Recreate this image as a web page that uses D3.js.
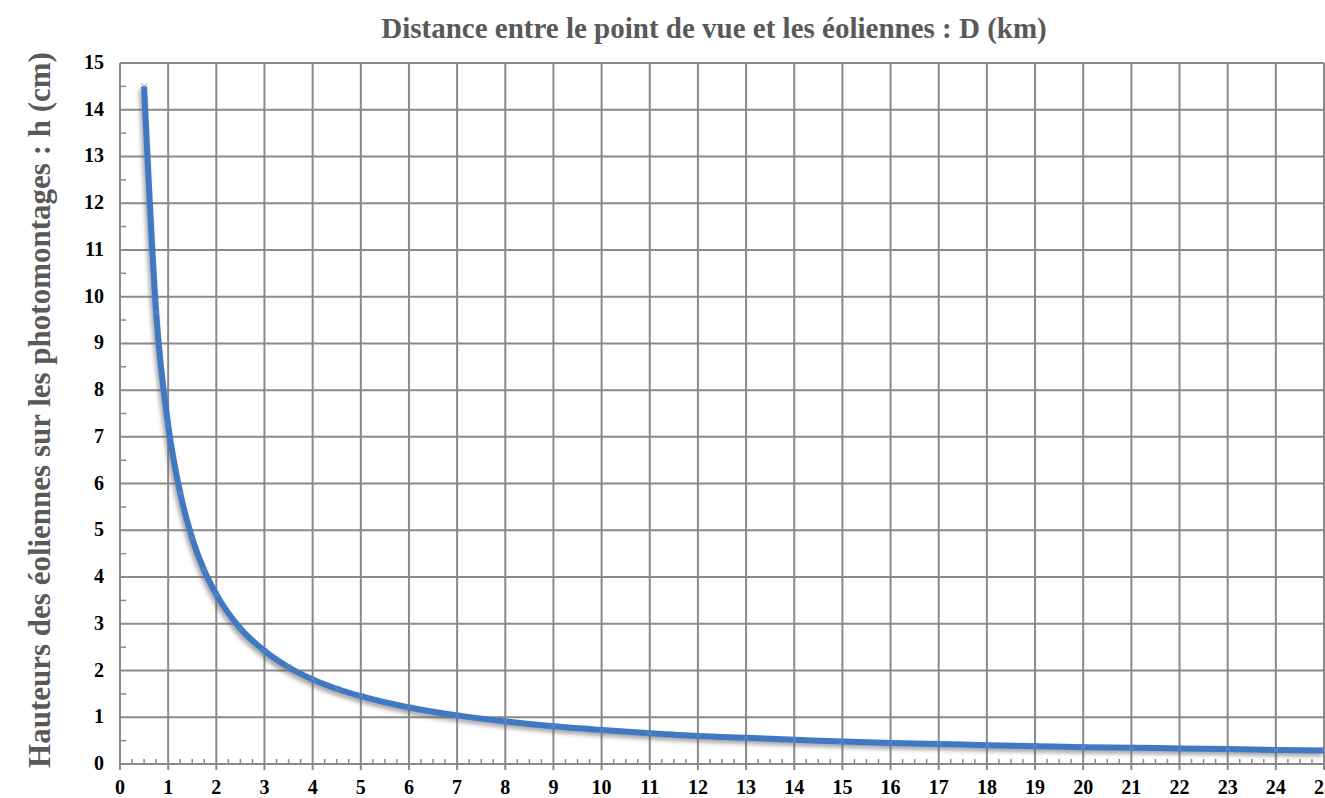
<!DOCTYPE html>
<html>
<head>
<meta charset="utf-8">
<script src="https://cdnjs.cloudflare.com/ajax/libs/d3/7.8.5/d3.min.js"></script>
<style>
  body { margin: 0; background: #fff; }
  text { font-family: "Liberation Serif", "DejaVu Serif", serif; }
  .tick-label { font-weight: bold; font-size: 20px; fill: #000; }
  .axis-title { font-weight: bold; font-size: 29px; fill: #595959; }
</style>
</head>
<body>
<svg id="chart"></svg>
<script>
// distances (km) and heights on photomontages (cm)
var distances = [0.5, 0.75, 1, 1.25, 1.5, 1.75, 2, 2.5, 3, 3.5, 4, 4.5, 5, 6, 7, 8, 9, 10,
                 11, 12, 13, 14, 15, 16, 17, 18, 19, 20, 21, 22, 23, 24, 25];
var heights = [14.5, 9.67, 7.25, 5.8, 4.83, 4.14, 3.63, 2.9, 2.42, 2.07, 1.81, 1.61, 1.45, 1.21, 1.04, 0.91, 0.81, 0.73,
               0.66, 0.6, 0.56, 0.52, 0.48, 0.45, 0.43, 0.4, 0.38, 0.36, 0.35, 0.33, 0.32, 0.3, 0.29];
var xTicks = d3.range(0, 26);
var yTicks = d3.range(0, 16);
var titleX = "Distance entre le point de vue et les éoliennes : D (km)";
var titleY = "Hauteurs des éoliennes sur les photomontages : h (cm)";

var width = 1325, height = 798;
var margin = {top: 63, right: 1, bottom: 34, left: 120};

var svg = d3.select("#chart")
    .attr("width", width)
    .attr("height", height);

var x = d3.scaleLinear().domain([0, 25]).range([margin.left, 1324]);
var y = d3.scaleLinear().domain([0, 15]).range([764, margin.top]);

var data = distances.map(function(d, i) { return {d: d, h: heights[i]}; });

// shadow under the curve
var defs = svg.append("defs");
defs.append("filter")
    .attr("id", "shadow")
    .attr("x", "-10%").attr("y", "-10%")
    .attr("width", "120%").attr("height", "120%")
  .append("feDropShadow")
    .attr("dx", -2).attr("dy", 3)
    .attr("stdDeviation", 2)
    .attr("flood-color", "#666")
    .attr("flood-opacity", 0.6);

var gridColor = "#8a8a8a";

// vertical grid lines (extend a bit below the axis as major ticks)
svg.append("g").selectAll("line")
    .data(xTicks)
  .enter().append("line")
    .attr("x1", function(d) { return x(d); })
    .attr("x2", function(d) { return x(d); })
    .attr("y1", y(15))
    .attr("y2", y(0) + 6)
    .attr("stroke", gridColor)
    .attr("stroke-width", 2);

// horizontal grid lines
svg.append("g").selectAll("line")
    .data(yTicks)
  .enter().append("line")
    .attr("x1", x(0))
    .attr("x2", x(25))
    .attr("y1", function(d) { return y(d); })
    .attr("y2", function(d) { return y(d); })
    .attr("stroke", gridColor)
    .attr("stroke-width", 2);

// minor ticks on the x axis (quarters)
var xMinor = [];
xTicks.slice(0, -1).forEach(function(t) { xMinor.push(t + 0.25, t + 0.5, t + 0.75); });
svg.append("g").selectAll("line")
    .data(xMinor)
  .enter().append("line")
    .attr("x1", function(d) { return x(d); })
    .attr("x2", function(d) { return x(d); })
    .attr("y1", y(0))
    .attr("y2", y(0) - 5)
    .attr("stroke", gridColor)
    .attr("stroke-width", 1.5);

// minor ticks on the y axis (halves)
var yMinor = yTicks.slice(0, -1).map(function(t) { return t + 0.5; });
svg.append("g").selectAll("line")
    .data(yMinor)
  .enter().append("line")
    .attr("x1", x(0))
    .attr("x2", x(0) + 6)
    .attr("y1", function(d) { return y(d); })
    .attr("y2", function(d) { return y(d); })
    .attr("stroke", gridColor)
    .attr("stroke-width", 1.5);

// tick labels
svg.append("g").selectAll("text")
    .data(yTicks)
  .enter().append("text")
    .attr("class", "tick-label")
    .attr("x", 104)
    .attr("y", function(d) { return y(d) + 6; })
    .attr("text-anchor", "end")
    .text(function(d) { return d; });

svg.append("g").selectAll("text")
    .data(xTicks)
  .enter().append("text")
    .attr("class", "tick-label")
    .attr("x", function(d) { return x(d); })
    .attr("y", 794)
    .attr("text-anchor", "middle")
    .text(function(d) { return d; });

// the curve
var line = d3.line()
    .curve(d3.curveMonotoneX)
    .x(function(d) { return x(d.d); })
    .y(function(d) { return y(d.h); });

svg.append("path")
    .datum(data)
    .attr("fill", "none")
    .attr("stroke", "#3f78c2")
    .attr("stroke-width", 6)
    .attr("stroke-linejoin", "round")
    .attr("filter", "url(#shadow)")
    .attr("d", line);

// small markers on the data points
svg.append("g").selectAll("path")
    .data(data)
  .enter().append("path")
    .attr("d", function(d) {
      var cx = x(d.d), cy = y(d.h);
      return "M" + (cx - 3) + "," + (cy - 3) + "L" + (cx + 3) + "," + (cy + 3) +
             "M" + (cx - 3) + "," + (cy + 3) + "L" + (cx + 3) + "," + (cy - 3);
    })
    .attr("stroke", "#5d8fcf")
    .attr("stroke-width", 1);

// axis titles
svg.append("text")
    .attr("class", "axis-title")
    .attr("x", 714)
    .attr("y", 38)
    .attr("text-anchor", "middle")
    .text(titleX);

svg.append("text")
    .attr("class", "axis-title")
    .style("font-size", "31px")
    .attr("transform", "translate(50,410) rotate(-90)")
    .attr("text-anchor", "middle")
    .text(titleY);
</script>
</body>
</html>
